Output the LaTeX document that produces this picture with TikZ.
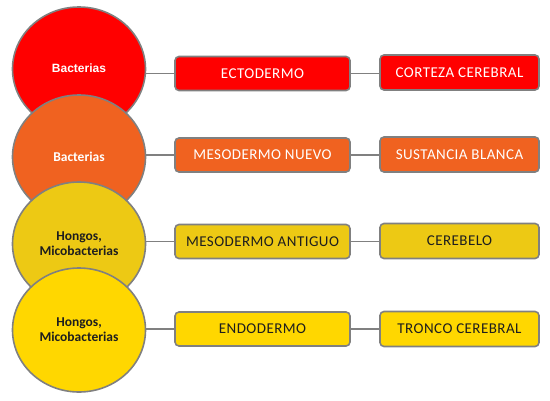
\documentclass[tikz,border=0pt]{standalone}
\usepackage{fontspec}
\setmainfont{Carlito}
\newfontfamily\arialf{Liberation Sans}
\newfontfamily\boxf[LetterSpace=3]{Carlito}
\usetikzlibrary{shapes.geometric}
\definecolor{cred}{RGB}{255,0,0}
\definecolor{corange}{RGB}{240,98,32}
\definecolor{cdyellow}{RGB}{237,201,20}
\definecolor{cyellow}{RGB}{255,215,0}
\definecolor{cgray}{RGB}{128,128,128}
\definecolor{ctext}{RGB}{30,30,30}
\tikzset{
  germ/.style={ellipse, draw=cgray, line width=1.6pt, minimum width=133pt, minimum height=124pt, inner sep=0pt, align=center, font=\bfseries\fontsize{13.5}{15}\selectfont},
  layerbox/.style={rounded corners=4pt, draw=cgray, line width=1.6pt, minimum width=175pt, minimum height=34pt, inner sep=0pt, font=\boxf\fontsize{15}{17}\selectfont},
  organbox/.style={rounded corners=4pt, draw=cgray, line width=1.6pt, minimum width=159pt, minimum height=35pt, inner sep=0pt, font=\boxf\fontsize{15}{17}\selectfont},
  link/.style={draw=cgray, line width=1.6pt}
}
\begin{document}
\begin{tikzpicture}[x=1pt,y=-1pt]
\useasboundingbox (0,0) rectangle (550,400);
\node[germ, fill=cred, text=white, font=\arialf\bfseries\fontsize{12}{14}\selectfont] (c1) at (79,69) {\raisebox{2pt}{Bacterias}};
\node[germ, fill=corange, text=white] (c2) at (79,157) {Bacterias};
\node[germ, fill=cdyellow, text=ctext] (c3) at (79,244) {Hongos,\\Micobacterias};
\node[germ, fill=cyellow, text=ctext] (c4) at (79,330) {Hongos,\\Micobacterias};

\node[layerbox, fill=cred, text=white] (l1) at (262.5,73.5) {ECTODERMO};
\node[layerbox, fill=corange, text=white] (l2) at (262.5,155) {MESODERMO NUEVO};
\node[layerbox, fill=cdyellow, text=ctext] (l3) at (262.5,241.5) {MESODERMO ANTIGUO};
\node[layerbox, fill=cyellow, text=ctext] (l4) at (262.5,329) {ENDODERMO};

\node[organbox, fill=cred, text=white] (o1) at (459.5,72.5) {CORTEZA CEREBRAL};
\node[organbox, fill=corange, text=white] (o2) at (459.5,154.5) {SUSTANCIA BLANCA};
\node[organbox, fill=cdyellow, text=ctext] (o3) at (459.5,241) {CEREBELO};
\node[organbox, fill=cyellow, text=ctext] (o4) at (459.5,329) {TRONCO CEREBRAL};

\foreach \i in {1,2,3,4} {
  \draw[link] (c\i.east |- l\i.west) ++(-0.8pt,0) -- (l\i.west);
  \draw[link] (l\i.east) -- (o\i.west |- l\i.east);
}
\end{tikzpicture}
\end{document}
